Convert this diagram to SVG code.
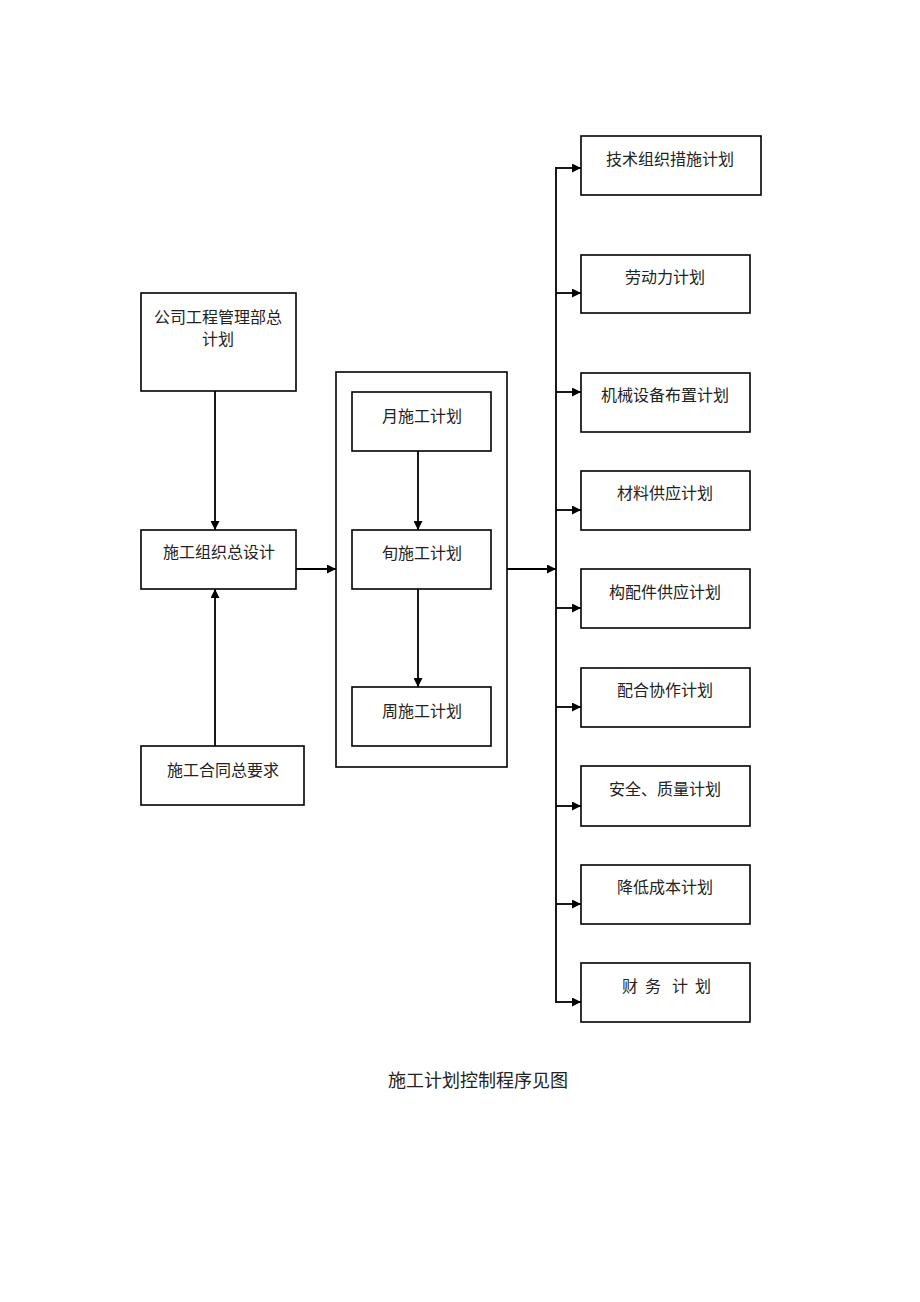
<svg xmlns="http://www.w3.org/2000/svg" width="920" height="1302" viewBox="0 0 920 1302">
<style>
.box{fill:#fff;stroke:#000;stroke-width:1.6}
.t{font-family:"Noto Sans CJK SC",sans-serif;font-size:16px;fill:#222;text-anchor:middle}
.c{stroke:#000;stroke-width:1.8;fill:none}
</style>
<defs>
<marker id="ah" viewBox="0 0 10 10" refX="10" refY="5" markerWidth="10" markerHeight="9" markerUnits="userSpaceOnUse" orient="auto">
<path d="M0,0 L10,5 L0,10 Z" fill="#000"/>
</marker>
</defs>
<rect width="920" height="1302" fill="#fff"/>
<g id="connectors">
<line class="c" x1="215" y1="391" x2="215" y2="530" marker-end="url(#ah)"/>
<line class="c" x1="215" y1="746" x2="215" y2="589" marker-end="url(#ah)"/>
<line class="c" x1="296" y1="569" x2="336" y2="569" marker-end="url(#ah)"/>
<line class="c" x1="418" y1="451" x2="418" y2="530" marker-end="url(#ah)"/>
<line class="c" x1="418" y1="589" x2="418" y2="687" marker-end="url(#ah)"/>
<line class="c" x1="507" y1="569" x2="556" y2="569" marker-end="url(#ah)"/>
<line class="c" x1="556" y1="167" x2="556" y2="1003"/>
<line class="c" x1="556" y1="168" x2="581" y2="168" marker-end="url(#ah)"/>
<line class="c" x1="556" y1="293" x2="581" y2="293" marker-end="url(#ah)"/>
<line class="c" x1="556" y1="392" x2="581" y2="392" marker-end="url(#ah)"/>
<line class="c" x1="556" y1="510" x2="581" y2="510" marker-end="url(#ah)"/>
<line class="c" x1="556" y1="608" x2="581" y2="608" marker-end="url(#ah)"/>
<line class="c" x1="556" y1="707" x2="581" y2="707" marker-end="url(#ah)"/>
<line class="c" x1="556" y1="806" x2="581" y2="806" marker-end="url(#ah)"/>
<line class="c" x1="556" y1="904" x2="581" y2="904" marker-end="url(#ah)"/>
<line class="c" x1="556" y1="1002" x2="581" y2="1002" marker-end="url(#ah)"/>
</g>
<g id="n-company"><rect class="box" x="141" y="293" width="155" height="98"/><text class="t" x="218" y="323">公司工程管理部总</text><text class="t" x="218" y="345">计划</text></g>
<g id="n-design"><rect class="box" x="141" y="530" width="155" height="59"/><text class="t" x="219" y="558">施工组织总设计</text></g>
<g id="n-contract"><rect class="box" x="141" y="746" width="163" height="59"/><text class="t" x="223" y="776">施工合同总要求</text></g>
<g id="n-container"><rect class="box" x="336" y="372" width="171" height="395" fill="none" style="fill:none"/></g>
<g id="n-month"><rect class="box" x="352" y="392" width="139" height="59"/><text class="t" x="422" y="422">月施工计划</text></g>
<g id="n-ten"><rect class="box" x="352" y="530" width="139" height="59"/><text class="t" x="422" y="559">旬施工计划</text></g>
<g id="n-week"><rect class="box" x="352" y="687" width="139" height="59"/><text class="t" x="422" y="717">周施工计划</text></g>
<g id="n-tech"><rect class="box" x="581" y="136" width="180" height="59"/><text class="t" x="670" y="165">技术组织措施计划</text></g>
<g id="n-labor"><rect class="box" x="581" y="255" width="169" height="58"/><text class="t" x="665" y="283">劳动力计划</text></g>
<g id="n-machine"><rect class="box" x="581" y="373" width="169" height="59"/><text class="t" x="665" y="401">机械设备布置计划</text></g>
<g id="n-material"><rect class="box" x="581" y="471" width="169" height="59"/><text class="t" x="665" y="499">材料供应计划</text></g>
<g id="n-parts"><rect class="box" x="581" y="569" width="169" height="59"/><text class="t" x="665" y="598">构配件供应计划</text></g>
<g id="n-coop"><rect class="box" x="581" y="668" width="169" height="59"/><text class="t" x="665" y="696">配合协作计划</text></g>
<g id="n-safety"><rect class="box" x="581" y="766" width="169" height="60"/><text class="t" x="665" y="795">安全、质量计划</text></g>
<g id="n-cost"><rect class="box" x="581" y="865" width="169" height="59"/><text class="t" x="665" y="893">降低成本计划</text></g>
<g id="n-finance"><rect class="box" x="581" y="963" width="169" height="59"/><text class="t" style="text-anchor:start" x="622 645 672 695" y="992">财务计划</text></g>
<text class="t" x="478" y="1087" style="font-size:18px">施工计划控制程序见图</text>
</svg>
